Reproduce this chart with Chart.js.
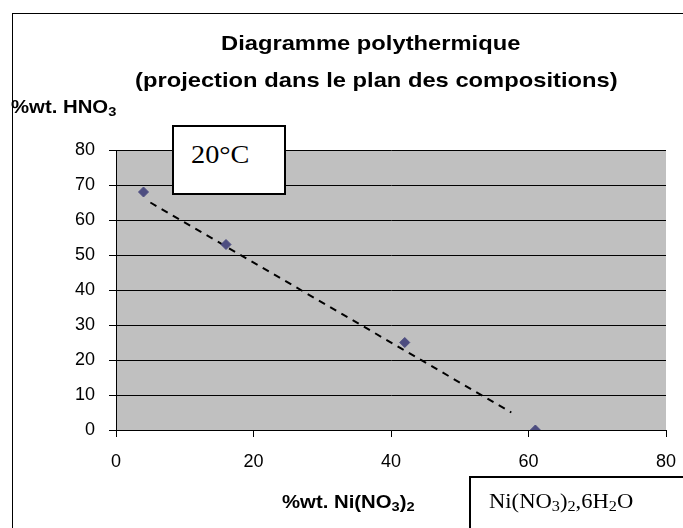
<!DOCTYPE html>
<html>
<head>
<meta charset="utf-8">
<script src="https://cdn.jsdelivr.net/npm/chart.js@4"></script>
<style>
    body { margin: 0; background: #fff; font-family: "Liberation Sans", Arial, sans-serif; }
    #wrap { position: relative; width: 683px; height: 528px; overflow: hidden; }
    #frame { position: absolute; left: 12px; top: 13px; width: 700px; height: 560px; border: 1px solid #000; }
    canvas { position: absolute; left: 0; top: 0; }
    .lbl { position: absolute; font-weight: bold; color: #000; white-space: nowrap; line-height: 1; transform: scaleX(1.13); transform-origin: left top; }
    .box { position: absolute; background: #fff; border: 2px solid #000; box-sizing: border-box; }
    .serif { position: absolute; font-family: "Liberation Serif", "Times New Roman", serif; line-height: 1; white-space: nowrap; transform: scaleX(1.13); transform-origin: left top; }
    sub { font-size: 0.72em; vertical-align: -0.22em; line-height: 0; }
</style>
</head>
<body>
<div id="wrap">
    <div id="frame"></div>
    <canvas id="chart" width="683" height="528"></canvas>
    <div class="lbl" style="left:221px;top:32px;font-size:21px;">Diagramme polythermique</div>
    <div class="lbl" style="left:135px;top:69px;font-size:21px;">(projection dans le plan des compositions)</div>
    <div class="lbl" style="left:11px;top:98px;font-size:18px;">%wt. HNO<sub>3</sub></div>
    <div class="lbl" style="left:282px;top:493px;font-size:18px;">%wt. Ni(NO<sub>3</sub>)<sub>2</sub></div>
    <div class="box" style="left:172px;top:125px;width:114px;height:70px;"></div>
    <div class="serif" style="left:191px;top:142px;font-size:25px;">20°C</div>
    <div class="box" style="left:469px;top:476px;width:240px;height:80px;"></div>
    <div class="serif" style="left:489px;top:491px;font-size:20px;">Ni(NO<sub>3</sub>)<sub>2</sub>,6H<sub>2</sub>O</div>
</div>
<script>
// measured compositions (%wt. Ni(NO3)2 , %wt. HNO3)
const niNitrate = [4, 16, 42, 61];
const nitricAcid = [68, 53, 25, 0];
// hand-drawn dashed guide line
const guideX = [5, 57.5];
const guideY = [65, 5];
const xTicks = [0, 20, 40, 60, 80];
const yTicks = [0, 10, 20, 30, 40, 50, 60, 70, 80];

const plotBackground = {
    id: 'plotBackground',
    beforeDraw(chart) {
        const { ctx, chartArea } = chart;
        ctx.save();
        ctx.fillStyle = '#c0c0c0';
        ctx.fillRect(chartArea.left, chartArea.top, chartArea.right - chartArea.left, chartArea.bottom - chartArea.top);
        ctx.restore();
    }
};

new Chart(document.getElementById('chart'), {
    type: 'scatter',
    data: {
        datasets: [{
            data: niNitrate.map((x, i) => ({ x: x, y: nitricAcid[i] })),
            pointStyle: 'rectRot',
            pointRadius: 5,
            backgroundColor: '#4d4d80',
            borderColor: '#4d4d80',
            order: 1
        }, {
            type: 'line',
            data: guideX.map((x, i) => ({ x: x, y: guideY[i] })),
            borderColor: '#000',
            borderWidth: 2,
            borderDash: [7, 6],
            pointRadius: 0,
            fill: false,
            order: 2
        }]
    },
    options: {
        responsive: false,
        animation: false,
        layout: { padding: { left: 0, top: 150, right: 17, bottom: 0 } },
        plugins: { legend: { display: false }, tooltip: { enabled: false } },
        scales: {
            x: {
                type: 'linear',
                min: 0, max: 80,
                afterBuildTicks: s => { s.ticks = xTicks.map(v => ({ value: v })); },
                afterFit: s => { s.height = 98; s.paddingLeft = 0; s.paddingRight = 0; },
                grid: { drawOnChartArea: false, drawTicks: true, tickLength: 7, color: '#000' },
                border: { color: '#000', width: 1 },
                ticks: { color: '#000', padding: 14, font: { family: 'Liberation Sans', size: 18 } }
            },
            y: {
                min: 0, max: 80,
                afterBuildTicks: s => { s.ticks = yTicks.map(v => ({ value: v })); },
                afterFit: s => { s.width = 116; s.paddingTop = 0; s.paddingBottom = 0; },
                grid: { color: '#000', tickLength: 7 },
                border: { color: '#000', width: 1 },
                ticks: { color: '#000', padding: 14, font: { family: 'Liberation Sans', size: 18 } }
            }
        }
    },
    plugins: [plotBackground]
});
</script>
</body>
</html>
